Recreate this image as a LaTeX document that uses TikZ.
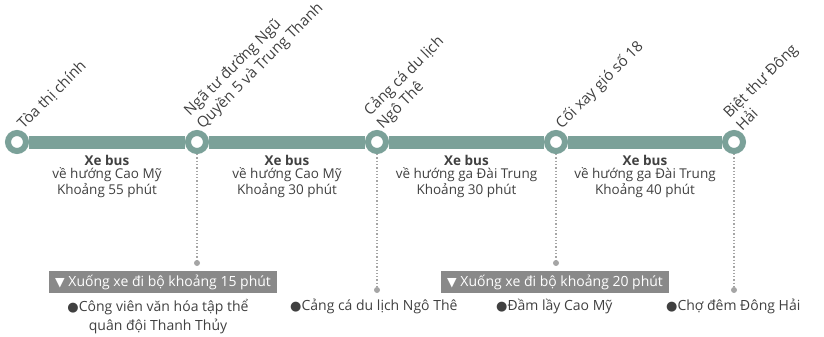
\documentclass[tikz,border=0pt]{standalone}
\usepackage{fontspec}
\setmainfont{Open Sans}
\newfontfamily\symfont{DejaVu Sans}
\usetikzlibrary{positioning,calc}
\definecolor{cLine}{HTML}{7BA199}
\definecolor{cText}{HTML}{404040}
\definecolor{cDot}{HTML}{A5A5A5}
\definecolor{cBox}{HTML}{898989}
\newcommand{\symbul}{{\symfont\fontsize{13}{12}\selectfont ●}}
\newcommand{\symdown}{{\symfont\fontsize{12.5}{12}\selectfont ▼}}

\begin{document}
\begin{tikzpicture}[x=1pt,y=-1pt,
  stop/.style={circle,draw=cLine,line width=6pt,fill=white,minimum size=18pt,inner sep=0pt},
  stoplabel/.style={anchor=south west,rotate=45,align=left,text=cText,inner sep=1pt,
    font=\fontsize{15}{18}\selectfont},
  bus/.style={anchor=north,align=center,text=cText,inner sep=0pt,
    font=\fontsize{13.5}{13.5}\selectfont},
  walk/.style={dotted,cDot,line width=1.3pt},
  walkend/.style={circle,fill=cDot,inner sep=0pt,minimum size=6pt},
  walkbox/.style={fill=cBox,text=white,anchor=west,inner xsep=6pt,minimum height=22pt,
    font=\fontsize{14}{14}\selectfont},
  spot/.style={align=center,text=cText,inner sep=0pt,font=\fontsize{14}{19}\selectfont}
]
\useasboundingbox (0,0) rectangle (824,337);

% stations
\node[stop] (s1) at (17,142) {};
\node[stop] (s2) at (197,142) {};
\node[stop] (s3) at (377,142) {};
\node[stop] (s4) at (556,142) {};
\node[stop] (s5) at (734,142) {};
\foreach \a/\b in {s1/s2,s2/s3,s3/s4,s4/s5}
  \draw[cLine,line width=13pt] (\a) -- (\b);

\node[stoplabel] at (s1.45) {Tòa thị chính};
\node[stoplabel] at (s2.45) {Ngã tư đường Ngũ\\Quyền 5 và Trung Thanh};
\node[stoplabel] at (s3.45) {Cảng cá du lịch\\Ngô Thê};
\node[stoplabel] at (s4.45) {Cối xay gió số 18};
\node[stoplabel] at (s5.45) {Biệt thự Đông\\Hải};

% bus legs
\node[bus] (b1) at ($(s1)!0.5!(s2)+(0,13)$) {\textbf{Xe bus}\\về hướng Cao Mỹ\\Khoảng 55 phút};
\node[bus] (b2) at ($(s2)!0.5!(s3)+(0,13)$) {\textbf{Xe bus}\\về hướng Cao Mỹ\\Khoảng 30 phút};
\node[bus] (b3) at ($(s3)!0.5!(s4)+(0,13)$) {\textbf{Xe bus}\\về hướng ga Đài Trung\\Khoảng 30 phút};
\node[bus] (b4) at ($(s4)!0.5!(s5)+(0,13)$) {\textbf{Xe bus}\\về hướng ga Đài Trung\\Khoảng 40 phút};

% walking drops
\node[walkend] (e2) at (197,263) {};
\node[walkend] (e3) at (377,290) {};
\node[walkend] (e4) at (556,263) {};
\node[walkend] (e5) at (734,290) {};
\foreach \a/\b in {s2/e2,s3/e3,s4/e4,s5/e5}
  \draw[walk] (\a.south) -- (\b);

\node[walkbox] (w1) at (49,282) {\symdown\ Xuống xe đi bộ khoảng 15 phút};
\node[walkbox] (w2) at (441,282) {\symdown\ Xuống xe đi bộ khoảng 20 phút};

% places
\node[spot,anchor=north] (p1) at (158,299) {\symbul Công viên văn hóa tập thể\\quân đội Thanh Thủy};
\node[spot,anchor=north west] (p2) at (290,299) {\symbul Cảng cá du lịch Ngô Thê};
\node[spot,anchor=north west] (p3) at (496,299) {\symbul Đầm lầy Cao Mỹ};
\node[spot,anchor=north west] (p4) at (666,299) {\symbul Chợ đêm Đông Hải};
\end{tikzpicture}
\end{document}
